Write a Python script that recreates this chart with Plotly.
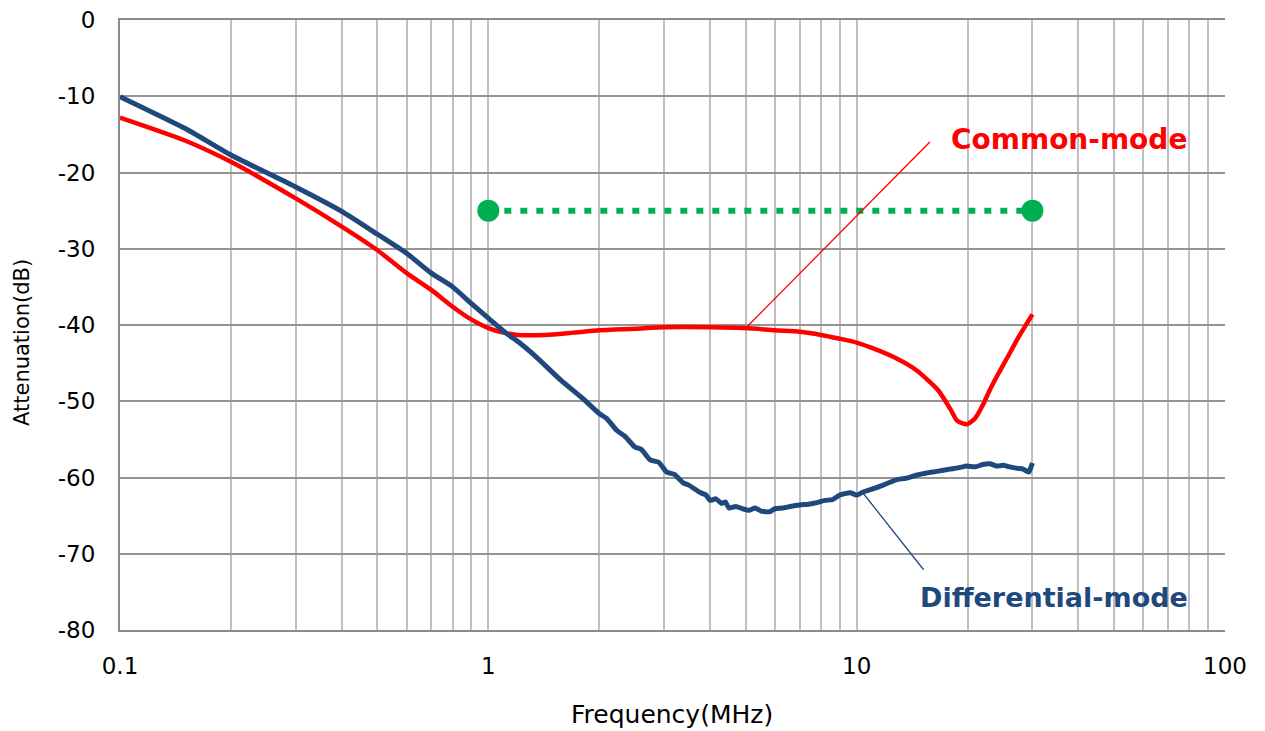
import plotly.graph_objects as go

# Common-mode attenuation (red)
cm_freq = [0.1, 0.15, 0.2, 0.3, 0.4, 0.5, 0.6, 0.7, 0.8, 0.9, 1.0, 1.1, 1.2, 1.43, 1.7, 2.0, 2.5, 3.0,
           4.0, 5.0, 6.0, 7.0, 8.0, 9.0, 10.0, 11.0, 12.6, 14.5, 16.6, 18.0, 18.7, 19.4, 20.0,
           21.0, 22.0, 23.0, 24.3, 25.7, 27.5, 30.0]
cm_db = [-12.8, -15.8, -18.6, -23.4, -27.1, -30.2, -33.2, -35.4, -37.6, -39.3, -40.4, -41.0, -41.3, -41.3,
         -41.0, -40.7, -40.5, -40.3, -40.3, -40.4, -40.7, -40.9, -41.3, -41.8, -42.3, -43.0, -44.2,
         -45.9, -48.5, -51.1, -52.5, -52.9, -53.0, -52.2, -50.5, -48.5, -46.3, -44.2, -41.6, -38.6]

# Differential-mode attenuation (dark blue)
dm_freq = [0.1, 0.15, 0.2, 0.3, 0.4, 0.5, 0.6, 0.7, 0.8, 0.9, 1.0, 1.12, 1.22, 1.35, 1.57,
           1.81, 2.0, 2.1, 2.23, 2.35, 2.5, 2.6, 2.75, 2.9, 3.05, 3.2, 3.38, 3.5, 3.77, 3.9, 4.0,
           4.15, 4.3, 4.4, 4.5, 4.7, 4.9, 5.1, 5.3, 5.5, 5.8, 6.0, 6.3, 6.6, 7.0, 7.4, 7.8, 8.2,
           8.6, 9.0, 9.6, 10.0, 10.4, 10.9, 11.8, 12.8, 13.6, 14.5, 15.5, 16.5, 17.9, 19.0, 19.9,
           21.0, 22.0, 23.0, 24.0, 25.0, 26.0, 27.3, 28.3, 29.3, 29.7, 30.0]
dm_db = [-10.05, -14.2, -17.7, -21.9, -25.1, -28.1, -30.6, -33.2, -35.0, -37.2, -39.1, -41.1, -42.4,
         -44.2, -47.2, -49.7, -51.6, -52.3, -53.8, -54.6, -56.0, -56.3, -57.7, -58.0, -59.3,
         -59.6, -60.7, -61.0, -62.0, -62.3, -63.0, -62.8, -63.4, -63.2, -64.0, -63.8, -64.1, -64.3,
         -64.0, -64.4, -64.5, -64.1, -64.0, -63.8, -63.6, -63.5, -63.3, -63.0, -62.9, -62.3, -62.0,
         -62.3, -61.9, -61.6, -61.0, -60.3, -60.1, -59.7, -59.4, -59.2, -58.9, -58.7, -58.5,
         -58.6, -58.3, -58.2, -58.5, -58.4, -58.6, -58.8, -58.9, -59.3, -58.7, -58.1]

# Target limit line (green dotted)
lim_freq = [1.0, 30.0]
lim_db = [-25.0, -25.0]

# Leader lines for labels
cm_leader_freq = [5.0, 15.8]
cm_leader_db = [-40.4, -16.0]
dm_leader_freq = [10.35, 15.2]
dm_leader_db = [-61.9, -72.1]

x_tick_vals = [0.1, 1, 10, 100]
x_tick_text = ["0.1", "1", "10", "100"]
y_tick_vals = [0, -10, -20, -30, -40, -50, -60, -70, -80]
y_tick_text = ["0", "-10", "-20", "-30", "-40", "-50", "-60", "-70", "-80"]
minor_vals = [m * d for d in (0.1, 1, 10) for m in range(2, 10)]

FONT = "DejaVu Sans"
RED = "#FF0000"
BLUE = "#1F497D"
GREEN = "#00B050"

# page has an 8px body margin; figure coordinates = page coordinates - OFF
OFF = 8
W, H = 1265, 731
L, T = 120 - OFF, 20 - OFF
PW, PH = 1105, 610
R, B = W - L - PW, H - T - PH

fig = go.Figure()
fig.add_trace(go.Scatter(x=lim_freq, y=lim_db, mode="lines+markers",
                         line=dict(color=GREEN, width=6, dash="7px,9px"),
                         marker=dict(color=GREEN, size=22), showlegend=False))
fig.add_trace(go.Scatter(x=cm_freq, y=cm_db, mode="lines",
                         line=dict(color=RED, width=4.5, shape="spline", smoothing=0.6),
                         showlegend=False))
fig.add_trace(go.Scatter(x=dm_freq, y=dm_db, mode="lines",
                         line=dict(color=BLUE, width=5, shape="spline", smoothing=0.5),
                         showlegend=False))
fig.add_trace(go.Scatter(x=cm_leader_freq, y=cm_leader_db, mode="lines", line=dict(color=RED, width=1.3),
                         showlegend=False))
fig.add_trace(go.Scatter(x=dm_leader_freq, y=dm_leader_db, mode="lines", line=dict(color=BLUE, width=1.3),
                         showlegend=False))

fig.add_annotation(x=1.252, y=-15.7, xref="x", yref="y", text="<b>Common-mode</b>", showarrow=False,
                   xanchor="left", yanchor="middle", font=dict(family=FONT, size=28, color=RED))
fig.add_annotation(x=1.167, y=-75.7, xref="x", yref="y", text="<b>Differential-mode</b>", showarrow=False,
                   xanchor="left", yanchor="middle", font=dict(family=FONT, size=27, color=BLUE))


def page_to_paper(px, py):
    fx = px - OFF
    fy = py - OFF
    return (fx - L) / PW, (H - fy - B) / PH


tx, ty = page_to_paper(672, 714)
fig.add_annotation(x=tx, y=ty, xref="paper", yref="paper", text="Frequency(MHz)", showarrow=False,
                   xanchor="center", yanchor="middle", font=dict(family=FONT, size=25, color="black"))
tx, ty = page_to_paper(22, 343)
fig.add_annotation(x=tx, y=ty, xref="paper", yref="paper", text="Attenuation(dB)", showarrow=False,
                   textangle=-90, xanchor="center", yanchor="middle",
                   font=dict(family=FONT, size=21, color="black"))

fig.update_layout(
    width=W, height=H,
    margin=dict(l=L, r=R, t=T, b=B),
    paper_bgcolor="white", plot_bgcolor="white",
    font=dict(family=FONT, color="black"),
    xaxis=dict(type="log", range=[-1, 2], tickvals=x_tick_vals, ticktext=x_tick_text,
               showgrid=True, gridcolor="#BFBFBF", gridwidth=1.5,
               minor=dict(tickvals=minor_vals, showgrid=True, gridcolor="#BFBFBF", gridwidth=1.5),
               showline=True, mirror=True, linecolor="#8C8C8C", linewidth=2, zeroline=False,
               automargin=False, ticklabeloverflow="allow",
               ticks="", ticklabelstandoff=14, tickfont=dict(size=23, family=FONT)),
    yaxis=dict(range=[-80, 0], tickvals=y_tick_vals, ticktext=y_tick_text,
               showgrid=True, gridcolor="#959595", gridwidth=2,
               showline=True, linecolor="#8C8C8C", linewidth=2, zeroline=False,
               automargin=False, ticklabeloverflow="allow",
               ticks="", ticklabelstandoff=18, tickfont=dict(size=23, family=FONT)),
)

fig.write_html("out.html")
